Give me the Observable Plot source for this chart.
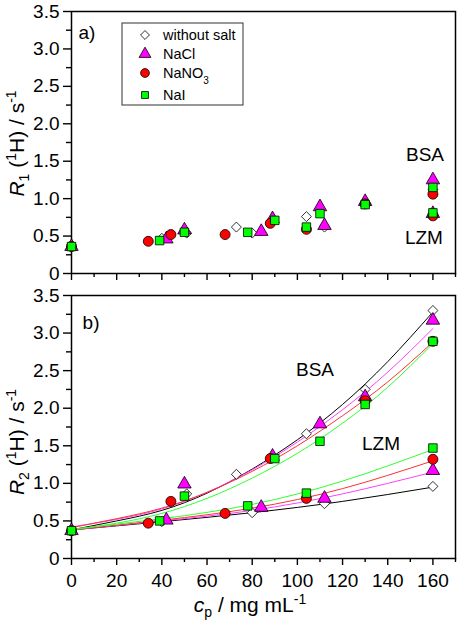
<!DOCTYPE html>
<html>
<head>
<meta charset="utf-8">
<script src="https://cdn.jsdelivr.net/npm/d3@7"></script>
<script src="https://cdn.jsdelivr.net/npm/@observablehq/plot@0.6"></script>
<style>
  html, body { margin: 0; padding: 0; background: white; }
  #chart { position: relative; width: 459px; height: 630px; font-family: 'Liberation Sans', Arial, sans-serif; }
  #chart svg { display: block; }
</style>
</head>
<body>
<div id="chart"></div>
<script>
// ---------- data ----------
const seriesNames = ["without salt", "NaCl", "NaNO3", "NaI"];
const seriesColors = ["white", "#ff00ff", "#ff0000", "#00ff00"];
const lineColors = ["#000000", "#ff40ff", "#ff3030", "#30ff30"];
const seriesSymbols = ["diamond2", "triangle", "circle", "square"];

// measured points: cp (mg/mL), protein, R1, R2 (1/s)
const noneCp      = [0, 40, 51, 73, 80, 104, 112, 130, 160, 160];
const noneProtein = ["", "LZM", "BSA", "BSA", "LZM", "BSA", "LZM", "BSA", "BSA", "LZM"];
const noneR1      = [0.36, 0.47, 0.54, 0.62, 0.54, 0.76, 0.62, 0.93, 1.12, 0.80];
const noneR2      = [0.37, 0.49, 0.86, 1.12, 0.61, 1.66, 0.73, 2.25, 3.30, 0.96];

const naclCp      = [0, 42, 50, 84, 89, 110, 112, 130, 160, 160];
const naclProtein = ["", "LZM", "BSA", "LZM", "BSA", "BSA", "LZM", "BSA", "BSA", "LZM"];
const naclR1      = [0.36, 0.46, 0.58, 0.56, 0.73, 0.89, 0.64, 0.96, 1.25, 0.80];
const naclR2      = [0.37, 0.51, 0.99, 0.68, 1.36, 1.79, 0.80, 2.15, 3.17, 1.17];

const nano3Cp      = [0, 34, 44, 68, 88, 104, 130, 160, 160];
const nano3Protein = ["", "LZM", "BSA", "LZM", "BSA", "LZM", "BSA", "BSA", "LZM"];
const nano3R1      = [0.36, 0.43, 0.52, 0.52, 0.67, 0.59, 0.93, 1.06, 0.77];
const nano3R2      = [0.37, 0.47, 0.76, 0.60, 1.33, 0.80, 2.10, 2.89, 1.32];

const naiCp      = [0, 39, 50, 78, 90, 104, 110, 130, 160, 160];
const naiProtein = ["", "LZM", "BSA", "LZM", "BSA", "LZM", "BSA", "BSA", "BSA", "LZM"];
const naiR1      = [0.36, 0.44, 0.55, 0.55, 0.71, 0.62, 0.80, 0.92, 1.15, 0.81];
const naiR2      = [0.37, 0.50, 0.83, 0.70, 1.33, 0.87, 1.56, 2.05, 2.89, 1.47];

// fitted curves in panel b)
const fitCpBSA = [0, 20, 40, 60, 80, 100, 120, 140, 160];
const fitBSAnone  = [0.38, 0.50, 0.64, 0.87, 1.19, 1.58, 2.05, 2.62, 3.28];
const fitBSAnacl  = [0.42, 0.52, 0.66, 0.88, 1.18, 1.55, 1.98, 2.48, 3.06];
const fitBSAnano3 = [0.41, 0.53, 0.67, 0.88, 1.16, 1.50, 1.90, 2.35, 2.88];
const fitBSAnai   = [0.38, 0.47, 0.60, 0.80, 1.07, 1.40, 1.80, 2.28, 2.86];
const fitCpLZM = [0, 40, 80, 120, 160];
const fitLZMnone  = [0.38, 0.49, 0.61, 0.76, 0.95];
const fitLZMnacl  = [0.38, 0.50, 0.64, 0.86, 1.15];
const fitLZMnano3 = [0.38, 0.51, 0.67, 0.93, 1.30];
const fitLZMnai   = [0.39, 0.53, 0.72, 1.03, 1.45];

// axis ticks
const xMajor = [0, 20, 40, 60, 80, 100, 120, 140, 160];
const xMinor = [10, 30, 50, 70, 90, 110, 130, 150, 170];
const yMajor = [0, 0.5, 1.0, 1.5, 2.0, 2.5, 3.0, 3.5];
const yMinor = [0.25, 0.75, 1.25, 1.75, 2.25, 2.75, 3.25];

// annotations (data coordinates)
const topNotes = [{t: "BSA", x: 156.5, y: 1.58}, {t: "LZM", x: 156, y: 0.47}];
const botNotes = [{t: "BSA", x: 107.8, y: 2.51}, {t: "LZM", x: 137, y: 1.53}];

// ---------- build tables ----------
const pointSets = [
  [noneCp, noneProtein, noneR1, noneR2],
  [naclCp, naclProtein, naclR1, naclR2],
  [nano3Cp, nano3Protein, nano3R1, nano3R2],
  [naiCp, naiProtein, naiR1, naiR2]
].map(([cp, pr, r1, r2], s) => cp.map((c, i) => ({series: seriesNames[s], cp: c, protein: pr[i], R1: r1[i], R2: r2[i]})));

const bsaFits = [fitBSAnone, fitBSAnacl, fitBSAnano3, fitBSAnai];
const lzmFits = [fitLZMnone, fitLZMnacl, fitLZMnano3, fitLZMnai];
const fitSets = [];
for (let s = 0; s < 4; s++) {
  fitSets.push({s, pts: fitCpBSA.map((c, i) => ({cp: c, R2: bsaFits[s][i]}))});
  fitSets.push({s, pts: fitCpLZM.map((c, i) => ({cp: c, R2: lzmFits[s][i]}))});
}
const symbolR = [4.5, 5.0, 5.0, 4.8];

const FONT = "'Liberation Sans', Arial, sans-serif";
const yFmt = d => d === 0 ? "0" : d3.format(".1f")(d);

function dotMarks(yKey) {
  return pointSets.map((pts, s) => Plot.dot(pts, {
    x: "cp", y: yKey, symbol: () => seriesSymbols[s], r: symbolR[s],
    fill: seriesColors[s], stroke: "black", strokeWidth: 0.8
  }));
}
function axisMarks(showXLabels) {
  return [
    Plot.axisY({ticks: yMajor, tickSize: 8, tickPadding: 4, tickFormat: yFmt, fontSize: 19, label: null, strokeWidth: 1.4}),
    Plot.axisY({ticks: yMinor, tickSize: 5, tickFormat: () => "", label: null, strokeWidth: 1.4}),
    Plot.axisX({ticks: xMajor, tickSize: 7, tickPadding: 8, tickFormat: showXLabels ? (d => String(d)) : (() => ""), fontSize: 19, label: null, strokeWidth: 1.4}),
    Plot.axisX({ticks: xMinor, tickSize: 4, tickFormat: () => "", label: null, strokeWidth: 1.4}),
    Plot.frame({stroke: "black", strokeWidth: 1.5})
  ];
}

const common = {
  width: 459, marginLeft: 71, marginRight: 4,
  x: {domain: [0, 170]}, y: {domain: [0, 3.5]},
  style: {fontFamily: FONT, fontSize: "19px", background: "white", color: "black", overflow: "visible"}
};

// ---------- panel a) ----------
const panelA = Plot.plot({
  ...common, height: 285, marginTop: 11, marginBottom: 12,
  marks: [
    ...axisMarks(false),
    ...dotMarks("R1"),
    Plot.text(topNotes, {x: "x", y: "y", text: "t", fontSize: 19, fill: "black"}),
    Plot.text(["a)"], {x: () => 3.1, y: () => 3.22, text: d => d, textAnchor: "start", fontSize: 19, fill: "black"})
  ]
});

// ---------- panel b) ----------
const panelB = Plot.plot({
  ...common, height: 345, marginTop: 10, marginBottom: 72,
  marks: [
    ...axisMarks(true),
    ...fitSets.map(f => Plot.line(f.pts, {x: "cp", y: "R2", curve: "natural", stroke: lineColors[f.s], strokeWidth: 1})),
    ...dotMarks("R2"),
    Plot.text(botNotes, {x: "x", y: "y", text: "t", fontSize: 19, fill: "black"}),
    Plot.text(["b)"], {x: () => 4.9, y: () => 3.13, text: d => d, textAnchor: "start", fontSize: 19, fill: "black"})
  ]
});

const chart = document.getElementById("chart");
chart.appendChild(panelA);
chart.appendChild(panelB);

// ---------- axis titles with sub/superscripts ----------
function yTitle(svg, cx, cy, sub) {
  const t = d3.select(svg).append("text")
    .attr("transform", `translate(${cx},${cy}) rotate(-90)`)
    .attr("text-anchor", "middle").attr("font-family", FONT).attr("font-size", 21).attr("fill", "black");
  t.append("tspan").attr("font-style", "italic").text("R");
  t.append("tspan").attr("font-size", 14).attr("dy", 5).text(sub);
  t.append("tspan").attr("dy", -5).text(" (");
  t.append("tspan").attr("font-size", 14).attr("dy", -8).text("1");
  t.append("tspan").attr("dy", 8).text("H) / s");
  t.append("tspan").attr("font-size", 14).attr("dy", -8).text("-1");
}
yTitle(panelA, 23.5, 143.5, "1");
yTitle(panelB, 23.5, 442 - 285, "2");

const xt = d3.select(panelB).append("text")
  .attr("x", 250).attr("y", 612 - 285).attr("text-anchor", "middle")
  .attr("font-family", FONT).attr("font-size", 21).attr("fill", "black");
xt.append("tspan").attr("font-style", "italic").text("c");
xt.append("tspan").attr("font-size", 14).attr("dy", 5).text("p");
xt.append("tspan").attr("dy", -5).text(" / mg mL");
xt.append("tspan").attr("font-size", 14).attr("dy", -8).text("-1");

// ---------- legend (inside panel a) ----------
const lg = d3.select(panelA).append("g").attr("font-family", FONT).attr("font-size", 14.5).attr("text-anchor", "start");
lg.append("rect").attr("x", 122).attr("y", 23).attr("width", 121).attr("height", 82)
  .attr("fill", "white").attr("stroke", "#333").attr("stroke-width", 1);
const symMap = {diamond2: d3.symbolDiamond2, triangle: d3.symbolTriangle, circle: d3.symbolCircle, square: d3.symbolSquare};
const legY = [35, 54, 73, 95];
const legR = [4.0, 4.4, 4.4, 3.9];
seriesNames.forEach((name, s) => {
  lg.append("path")
    .attr("transform", `translate(145,${legY[s]})`)
    .attr("d", d3.symbol(symMap[seriesSymbols[s]], Math.PI * legR[s] * legR[s])())
    .attr("fill", seriesColors[s]).attr("stroke", "black").attr("stroke-width", 0.8);
  const tx = lg.append("text").attr("x", 163).attr("y", legY[s]).attr("dy", "0.35em").attr("fill", "black").attr("text-anchor", "start");
  if (name === "NaNO3") {
    tx.append("tspan").text("NaNO");
    tx.append("tspan").attr("font-size", 10).attr("dy", 6).text("3");
  } else {
    tx.text(name);
  }
});
</script>
</body>
</html>
